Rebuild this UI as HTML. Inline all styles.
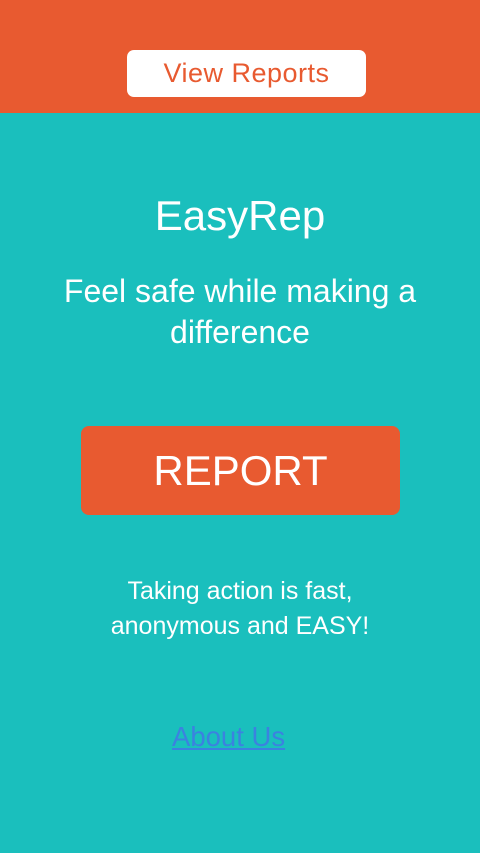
<!DOCTYPE html>
<html><head><meta charset="utf-8"><style>
html,body{margin:0;padding:0;width:480px;height:853px;overflow:hidden;background:#1abfbd;font-family:"Liberation Sans",sans-serif;}
.hdr{position:absolute;left:0;top:0;width:480px;height:113px;background:#e85a30;}
.vr{position:absolute;left:127px;top:50px;width:239px;height:47px;background:#fff;border-radius:7px;color:#e85a30;font-size:27px;letter-spacing:0.5px;line-height:47px;text-align:center;}
.t{position:absolute;left:0;width:480px;text-align:center;color:#fff;}
.rep{position:absolute;left:81px;top:426px;width:319px;height:89px;background:#e85a30;border-radius:8px;color:#fff;font-size:42px;line-height:89px;text-align:center;}
.about{position:absolute;left:172px;top:720px;color:#3b82e0;font-size:27.5px;text-decoration:underline;line-height:34px;}
</style></head><body>
<div class="hdr">
<div class="vr">View Reports</div></div>
<div class="t" style="top:189px;font-size:42px;line-height:54px;">EasyRep</div>
<div class="t" style="top:271px;font-size:32px;line-height:41px;">Feel safe while making a<br>difference</div>
<div class="rep">REPORT</div>
<div class="t" style="top:574px;font-size:25px;line-height:35px;">Taking action is fast,<br>anonymous and EASY!</div>
<div class="about">About Us</div>
</body></html>
